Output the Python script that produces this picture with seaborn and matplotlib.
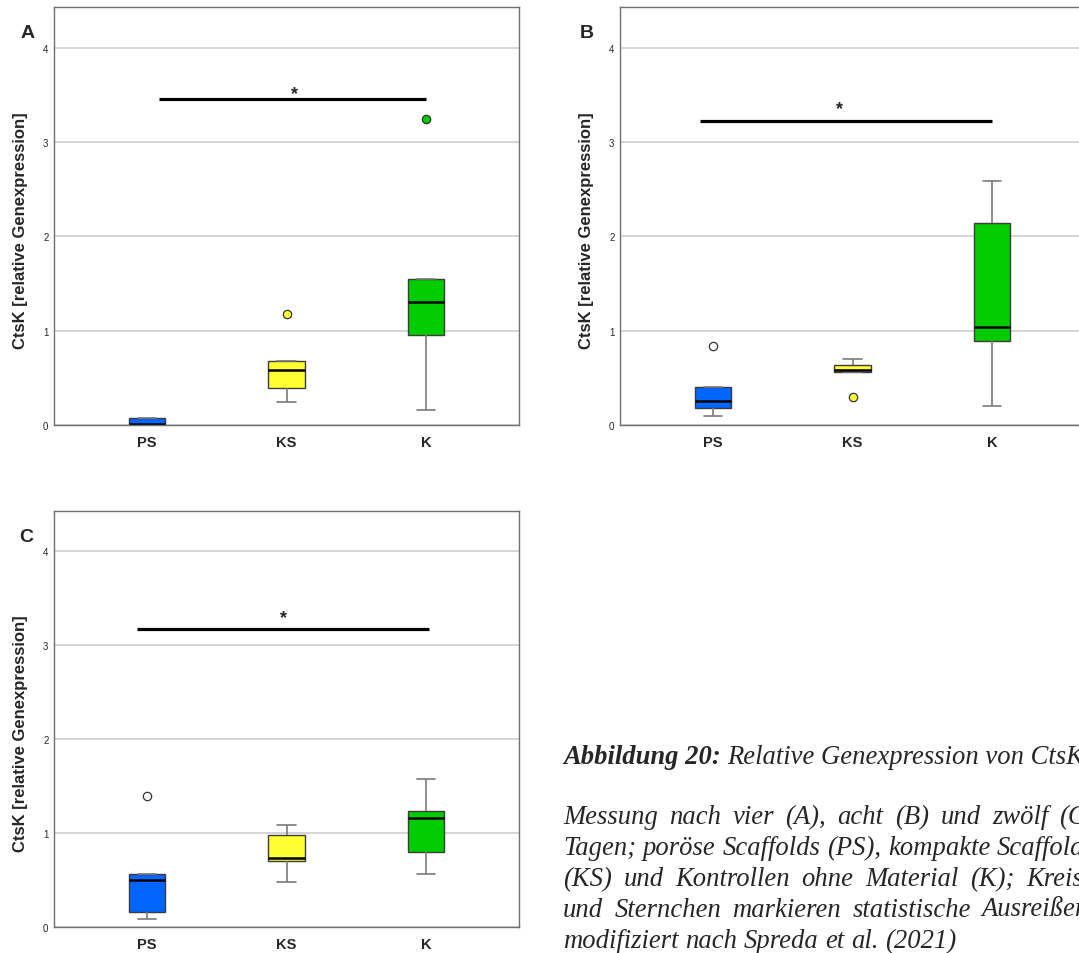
import matplotlib
matplotlib.use("Agg")
import matplotlib.pyplot as plt
import seaborn as sns
import pandas as pd

# Gruppen und Farben
groups = ["PS", "KS", "K"]
box_colors = ["#0066ff", "#ffff33", "#00cc00"]
flier_fill = ["white", "#ffff33", "#00cc00"]

# CtsK-Werte je Zeitpunkt
a_ps = [0.0, 0.004, 0.01, 0.075, 0.075]
a_ks = [0.24, 0.39, 0.58, 0.68, 1.18]
a_k = [0.16, 0.95, 1.30, 1.55, 3.24]

b_ps = [0.10, 0.185, 0.255, 0.40, 0.84]
b_ks = [0.30, 0.56, 0.58, 0.64, 0.70]
b_k = [0.20, 0.89, 1.04, 2.14, 2.59]

c_ps = [0.08, 0.165, 0.50, 0.56, 1.40]
c_ks = [0.48, 0.705, 0.735, 0.98, 1.09]
c_k = [0.56, 0.80, 1.16, 1.235, 1.58]

panels = ["A", "B", "C"]
panel_data = {"A": [a_ps, a_ks, a_k], "B": [b_ps, b_ks, b_k], "C": [c_ps, c_ks, c_k]}

# Signifikanzbalken
sig_y = {"A": 3.45, "B": 3.22, "C": 3.17}
sig_from = {"A": 0.09, "B": -0.09, "C": -0.07}
sig_to = {"A": 2.0, "B": 2.0, "C": 2.02}
star_x = {"A": 1.06, "B": 0.91, "C": 0.98}
star_y = {"A": 3.51, "B": 3.35, "C": 3.30}

caption_head = "Abbildung 20:"
caption_title = "Relative Genexpression von CtsK"
caption_lines = [
    "Messung nach vier (A), acht (B) und zwölf (C)",
    "Tagen; poröse Scaffolds (PS), kompakte Scaffolds",
    "(KS) und Kontrollen ohne Material (K); Kreise",
    "und Sternchen markieren statistische Ausreißer;",
    "modifiziert nach Spreda et al. (2021)",
]

sns.set_style("white")
plt.rcParams["font.family"] = ["Liberation Sans", "DejaVu Sans"]

W, H = 1079, 954
fig = plt.figure(figsize=(W / 100, H / 100), dpi=100)

# Achsen in Pixeln: links, oben, rechts, unten
axes_px = {"A": (54, 8, 519, 426), "B": (620, 8, 1085, 426), "C": (54, 512, 519, 928)}
letter_px = {"A": (28, 33), "B": (587, 33), "C": (26, 537)}

for p in panels:
    l, t, r, b = axes_px[p]
    ax = fig.add_axes([l / W, 1 - b / H, (r - l) / W, (b - t) / H])
    vals = panel_data[p]
    df = pd.DataFrame({
        "Gruppe": [g for g, v in zip(groups, vals) for _ in v],
        "CtsK": [x for v in vals for x in v],
    })
    sns.boxplot(data=df, x="Gruppe", y="CtsK", hue="Gruppe", order=groups,
                hue_order=groups, palette=box_colors, saturation=1, legend=False,
                width=0.26, linecolor="#3c3c3c", linewidth=1.0, ax=ax,
                whiskerprops=dict(color="#7a7a7a", linewidth=1.2),
                capprops=dict(color="#7a7a7a", linewidth=1.2),
                medianprops=dict(color="black", linewidth=1.8),
                flierprops=dict(marker="o", markersize=6, markeredgecolor="#333333",
                                markeredgewidth=0.9))
    for ln in ax.lines:
        xd = ln.get_xdata()
        if ln.get_marker() == "o" and len(xd) > 0:
            ln.set_markerfacecolor(flier_fill[int(round(xd[0]))])

    ax.plot([sig_from[p], sig_to[p]], [sig_y[p], sig_y[p]], color="black",
            linewidth=2.3, solid_capstyle="butt")
    ax.text(star_x[p], star_y[p], "*", ha="center", va="center",
            fontsize=13, fontweight="bold")

    ax.set_xlim(-0.664, 2.664)
    ax.set_ylim(0, 4.43)
    ax.set_yticks([0, 1, 2, 3, 4])
    ax.yaxis.grid(True, color="#d2d2d2", linewidth=1.3)
    ax.set_axisbelow(True)
    ax.tick_params(axis="both", length=0)
    ax.tick_params(axis="y", labelsize=7, pad=4)
    ax.tick_params(axis="x", labelsize=10.5, pad=7)
    for lab in ax.get_xticklabels():
        lab.set_fontweight("bold")
    ax.set_xlabel("")
    ax.set_ylabel("CtsK [relative Genexpression]", fontsize=12, fontweight="bold")
    ax.yaxis.set_label_coords(-0.055, 0.467)
    for s in ax.spines.values():
        s.set_color("#707070")
        s.set_linewidth(1.0)

    lx, ly = letter_px[p]
    fig.text(lx / W, 1 - ly / H, p, ha="center", va="center", fontsize=14,
             fontweight="bold")

# Bildunterschrift (Blocksatz, rechts vom Bildrand abgeschnitten)
serif = ["Liberation Serif", "DejaVu Serif"]
cap_size = 19.2
x_left, x_right = 563, 1095
renderer = fig.canvas.get_renderer()

head = fig.text(x_left / W, 1 - 764 / H, caption_head, fontsize=cap_size, family=serif,
                style="italic", fontweight="bold", va="baseline")
hw = head.get_window_extent(renderer).width
space = 0.25 * cap_size * 100 / 72
fig.text((x_left + hw + space) / W, 1 - 764 / H, caption_title, fontsize=cap_size,
         family=serif, style="italic", va="baseline")

for i, line in enumerate(caption_lines):
    y = 824 + 31 * i
    words = line.split(" ")
    arts = [fig.text(0, 1 - y / H, w, fontsize=cap_size, family=serif, style="italic",
                     va="baseline") for w in words]
    widths = [a.get_window_extent(renderer).width for a in arts]
    if i < len(caption_lines) - 1:
        gap = (x_right - x_left - sum(widths)) / (len(words) - 1)
    else:
        gap = space
    x = x_left
    for a, w in zip(arts, widths):
        a.set_x(x / W)
        x += w + gap

fig.savefig("out.png", dpi=100)
